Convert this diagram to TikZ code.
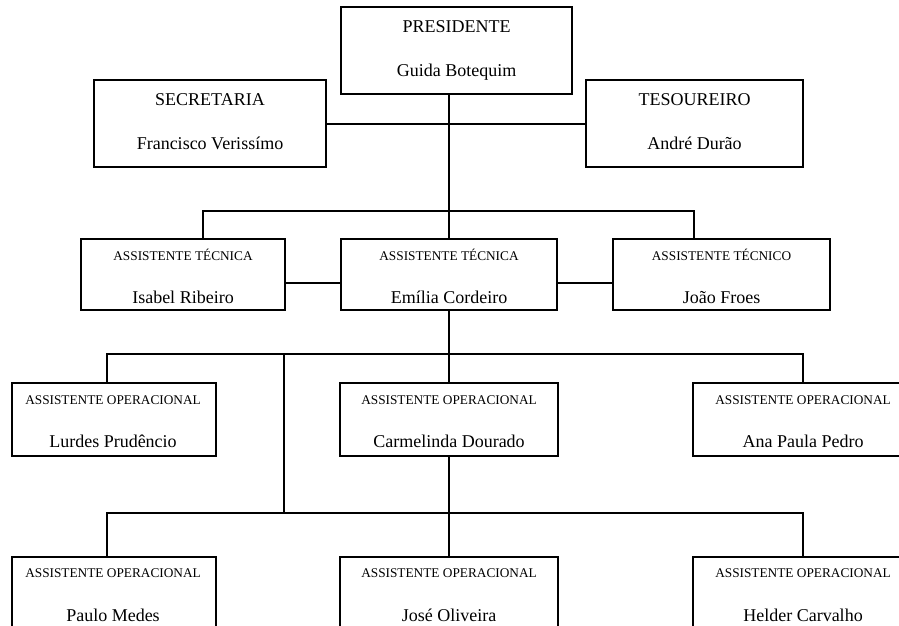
\documentclass[tikz,border=0pt]{standalone}
\usepackage{fontspec}
\setmainfont{Liberation Serif}
\begin{document}
\begin{tikzpicture}[x=1pt,y=-1pt,
  box/.style={draw=black,line width=1.4pt,rectangle,inner sep=0pt,outer sep=0pt,anchor=north west},
  big/.style={font=\fontsize{18}{18}\selectfont,anchor=base,inner sep=0pt},
  sml/.style={font=\fontsize{13.3}{13.3}\selectfont,anchor=base,inner sep=0pt},
  link/.style={draw=black,line width=1.4pt}]
\useasboundingbox (0,0) rectangle (899,626);
\clip (0,0) rectangle (899,626);
% top level
\node[box,minimum width=231pt,minimum height=87pt] (pres) at (341,7) {};
\node[big] (presT) at (456.5,33) {PRESIDENTE};
\node[big] (presN) at (456.5,77) {Guida Botequim};
\node[box,minimum width=232pt,minimum height=87pt] (sec) at (94,80) {};
\node[big] (secT) at (210,105) {SECRETARIA};
\node[big] (secN) at (210,149) {Francisco Verissímo};
\node[box,minimum width=217pt,minimum height=87pt] (tes) at (586,80) {};
\node[big] (tesT) at (694.5,105) {TESOUREIRO};
\node[big] (tesN) at (694.5,149) {André Durão};
% technical assistants
\node[box,minimum width=204pt,minimum height=71pt] (isa) at (81,239) {};
\node[sml] (isaT) at (183,260) {ASSISTENTE TÉCNICA};
\node[big] (isaN) at (183,303) {Isabel Ribeiro};
\node[box,minimum width=216pt,minimum height=71pt] (emi) at (341,239) {};
\node[sml] (emiT) at (449,260) {ASSISTENTE TÉCNICA};
\node[big] (emiN) at (449,303) {Emília Cordeiro};
\node[box,minimum width=217pt,minimum height=71pt] (joa) at (613,239) {};
\node[sml] (joaT) at (721.5,260) {ASSISTENTE TÉCNICO};
\node[big] (joaN) at (721.5,303) {João Froes};
% operational row 1
\node[box,minimum width=204pt,minimum height=73pt] (lur) at (12,383) {};
\node[sml] (lurT) at (113,404) {ASSISTENTE OPERACIONAL};
\node[big] (lurN) at (113,447) {Lurdes Prudêncio};
\node[box,minimum width=218pt,minimum height=73pt] (car) at (340,383) {};
\node[sml] (carT) at (449,404) {ASSISTENTE OPERACIONAL};
\node[big] (carN) at (449,447) {Carmelinda Dourado};
\node[box,minimum width=220pt,minimum height=73pt] (ana) at (693,383) {};
\node[sml] (anaT) at (803,404) {ASSISTENTE OPERACIONAL};
\node[big] (anaN) at (803,447) {Ana Paula Pedro};
% operational row 2
\node[box,minimum width=204pt,minimum height=90pt] (pau) at (12,557) {};
\node[sml] (pauT) at (113,577) {ASSISTENTE OPERACIONAL};
\node[big] (pauN) at (113,621) {Paulo Medes};
\node[box,minimum width=218pt,minimum height=90pt] (jos) at (340,557) {};
\node[sml] (josT) at (449,577) {ASSISTENTE OPERACIONAL};
\node[big] (josN) at (449,621) {José Oliveira};
\node[box,minimum width=220pt,minimum height=90pt] (hel) at (693,557) {};
\node[sml] (helT) at (803,577) {ASSISTENTE OPERACIONAL};
\node[big] (helN) at (803,621) {Helder Carvalho};
% junction coordinates
\coordinate (j1) at (449,124);
\coordinate (j2) at (449,211);
\coordinate (j2L) at (203,211);
\coordinate (j2R) at (694,211);
\coordinate (j3) at (449,354);
\coordinate (j3L) at (107,354);
\coordinate (j3M) at (284,354);
\coordinate (j3R) at (803,354);
\coordinate (j4) at (449,513);
\coordinate (j4L) at (107,513);
\coordinate (j4M) at (284,513);
\coordinate (j4R) at (803,513);
% connectors
\draw[link] (sec.east |- j1) -- (tes.west |- j1);
\draw[link] (pres.south -| j1) -- (emi.north);
\draw[link] (isa.north -| j2L) -- (j2L) -- (j2R) -- (joa.north -| j2R);
\draw[link] ([yshift=-8.5pt]isa.east) -- ([yshift=-8.5pt]emi.west);
\draw[link] ([yshift=-8.5pt]emi.east) -- ([yshift=-8.5pt]joa.west);
\draw[link] (emi.south) -- (car.north);
\draw[link] (lur.north -| j3L) -- (j3L) -- (j3R) -- (ana.north -| j3R);
\draw[link] (j3M) -- (j4M);
\draw[link] (car.south) -- (jos.north);
\draw[link] (pau.north -| j4L) -- (j4L) -- (j4R) -- (hel.north -| j4R);
\end{tikzpicture}
\end{document}
